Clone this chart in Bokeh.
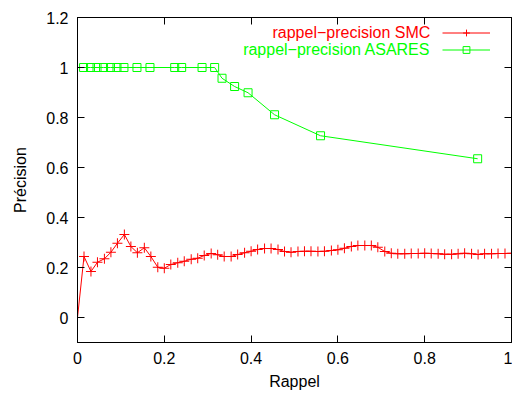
from bokeh.plotting import figure
from bokeh.models import (Range1d, FixedTicker, LinearAxis, Legend, LegendItem, Label)
from bokeh.embed import file_html
from bokeh.resources import INLINE

# --- data ---
smc_rappel = [0.000, 0.015, 0.031, 0.046, 0.062, 0.077, 0.092, 0.108, 0.123, 0.138,
              0.154, 0.169, 0.185, 0.200, 0.215, 0.231, 0.246, 0.262, 0.277, 0.292,
              0.308, 0.323, 0.338, 0.354, 0.369, 0.385, 0.400, 0.415, 0.431, 0.446,
              0.462, 0.477, 0.492, 0.508, 0.523, 0.538, 0.554, 0.569, 0.585, 0.600,
              0.615, 0.631, 0.646, 0.662, 0.677, 0.692, 0.708, 0.723, 0.738, 0.754,
              0.769, 0.785, 0.800, 0.815, 0.831, 0.846, 0.862, 0.877, 0.892, 0.908,
              0.923, 0.938, 0.954, 0.969, 0.985, 1.000]
smc_precision = [0.000, 0.244, 0.184, 0.221, 0.235, 0.261, 0.297, 0.332, 0.284, 0.259,
                 0.279, 0.244, 0.201, 0.197, 0.212, 0.219, 0.225, 0.233, 0.237, 0.248,
                 0.256, 0.251, 0.244, 0.244, 0.252, 0.259, 0.265, 0.272, 0.276, 0.276,
                 0.272, 0.264, 0.261, 0.264, 0.265, 0.265, 0.264, 0.265, 0.268, 0.271,
                 0.277, 0.284, 0.288, 0.288, 0.288, 0.281, 0.264, 0.257, 0.255, 0.255,
                 0.256, 0.256, 0.257, 0.256, 0.255, 0.253, 0.253, 0.255, 0.257, 0.255,
                 0.252, 0.255, 0.255, 0.256, 0.256, 0.257]
asares_rappel = [0.014, 0.030, 0.045, 0.060, 0.076, 0.091, 0.107, 0.137, 0.167, 0.224,
                 0.240, 0.287, 0.316, 0.333, 0.362, 0.393, 0.454, 0.560, 0.922]
asares_precision = [1.0, 1.0, 1.0, 1.0, 1.0, 1.0, 1.0, 1.0, 1.0, 1.0,
                    1.0, 1.0, 1.0, 0.957, 0.924, 0.899, 0.811, 0.727, 0.635]
x_ticks = [0, 0.2, 0.4, 0.6, 0.8, 1]
x_tick_labels = ["0", "0.2", "0.4", "0.6", "0.8", "1"]
y_ticks = [0, 0.2, 0.4, 0.6, 0.8, 1, 1.2]
y_tick_labels = ["0", "0.2", "0.4", "0.6", "0.8", "1", "1.2"]
series_names = ["rappel\u2212precision SMC", "rappel\u2212precision ASARES"]
series_colors = ["#ff0000", "#00ff00"]

FONT = "Liberation Sans"
FS = "16px"

p = figure(width=512, height=398, output_backend="svg", toolbar_location=None,
           x_range=Range1d(0, 1), y_range=Range1d(-0.1, 1.2),
           min_border_left=77, min_border_right=1, min_border_top=17, min_border_bottom=56,
           x_axis_label="Rappel", y_axis_label="Précision")
p.grid.visible = False
p.outline_line_color = "black"
p.outline_line_width = 1
p.background_fill_color = "white"
p.border_fill_color = "white"

def style_axis(ax, ticks, labels):
    ax.ticker = FixedTicker(ticks=ticks)
    ax.major_label_overrides = {t: l for t, l in zip(ticks, labels)}
    ax.major_tick_in = 7
    ax.major_tick_out = 0
    ax.minor_tick_in = 0
    ax.minor_tick_out = 0
    ax.axis_line_color = "black"
    ax.major_tick_line_color = "black"
    ax.major_label_text_font = FONT
    ax.major_label_text_color = "black"
    ax.major_label_text_font_size = FS
    ax.major_label_standoff = 9
    ax.axis_label_text_font = FONT
    ax.axis_label_text_font_style = "normal"
    ax.axis_label_text_font_size = FS
    ax.axis_label_text_color = "black"

def mirror_axis(ax, ticks):
    # ticks only (drawn as minor ticks so that no labels are produced)
    ax.ticker = FixedTicker(ticks=[], minor_ticks=ticks)
    ax.major_tick_in = 0
    ax.major_tick_out = 0
    ax.minor_tick_in = 7
    ax.minor_tick_out = 0
    ax.minor_tick_line_color = "black"
    ax.axis_line_color = "black"
    ax.major_label_standoff = 0

style_axis(p.xaxis[0], x_ticks, x_tick_labels)
style_axis(p.yaxis[0], y_ticks, y_tick_labels)
p.xaxis[0].axis_label_standoff = 6
p.yaxis[0].axis_label_standoff = 14

top = LinearAxis()
mirror_axis(top, x_ticks)
p.add_layout(top, "above")
right = LinearAxis()
mirror_axis(right, y_ticks)
p.add_layout(right, "right")

l1 = p.line(smc_rappel, smc_precision, line_color=series_colors[0], line_width=1)
s1 = p.scatter(smc_rappel, smc_precision, marker="cross", size=10,
               line_color=series_colors[0], line_width=1)
l2 = p.line(asares_rappel, asares_precision, line_color=series_colors[1], line_width=1)
s2 = p.scatter(asares_rappel, asares_precision, marker="square", size=8,
               line_color=series_colors[1], fill_color=None, line_width=1)

leg = Legend(items=[LegendItem(label=" ", renderers=[l1, s1]),
                    LegendItem(label=" ", renderers=[l2, s2])],
             location=(365, 284), glyph_width=48, glyph_height=17,
             padding=0, margin=0, spacing=0, label_standoff=0, label_width=0,
             label_text_font_size="1px",
             border_line_alpha=0, background_fill_alpha=0)
p.add_layout(leg, "center")

for name, col, yy in zip(series_names, series_colors, [1.14, 1.072]):
    p.add_layout(Label(x=0.813, y=yy, text=name, text_align="right",
                       text_baseline="middle", text_color=col,
                       text_font=FONT, text_font_size=FS))

open("out.html", "w").write(file_html(p, INLINE))
